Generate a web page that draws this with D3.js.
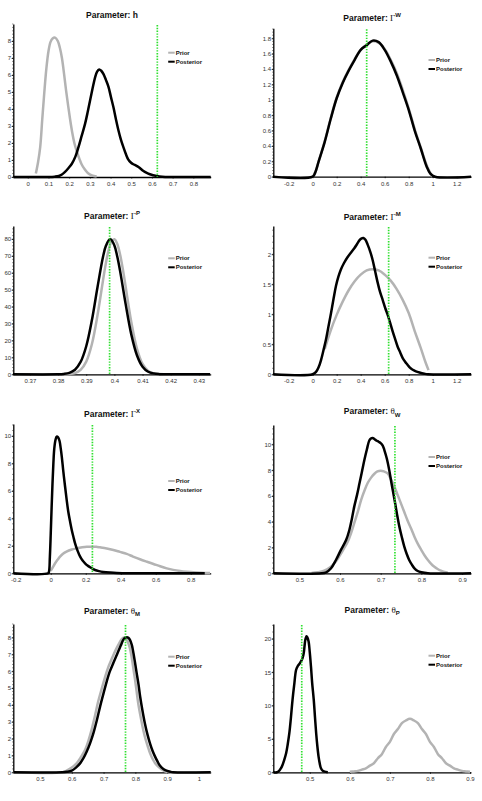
<!DOCTYPE html>
<html><head><meta charset="utf-8">
<script src="https://cdn.jsdelivr.net/npm/d3@7"></script>
<style>body{margin:0;background:#fff}svg{display:block}</style>
</head><body><svg id="c" width="482" height="801"></svg>
<script>
// ---------- DATA ----------
const seriesNames = ["Prior", "Posterior"];
const trueValues = [0.626, 0.45, 0.3983, 0.633, 0.238, 0.735, 0.769, 0.48];

const hPrior = [[0.039,0.2],[0.05,0.9],[0.06,1.76],[0.07,3.4],[0.08,5.0],[0.09,6.4],[0.1,7.4],[0.11,7.95],[0.12,8.15],[0.132,8.2],[0.145,8.0],[0.155,7.6],[0.165,7.0],[0.175,6.1],[0.185,5.1],[0.195,4.2],[0.205,3.35],[0.215,2.6],[0.225,2.0],[0.237,1.5],[0.25,1.05],[0.26,0.75],[0.275,0.45],[0.29,0.24],[0.31,0.1],[0.333,0.03]];
const hPosterior = [[-0.07,0],[0.1,0],[0.13,0.02],[0.15,0.06],[0.165,0.15],[0.18,0.3],[0.195,0.5],[0.213,0.78],[0.23,1.2],[0.245,1.76],[0.26,2.4],[0.277,3.14],[0.29,3.85],[0.301,4.5],[0.313,5.2],[0.325,5.85],[0.335,6.2],[0.345,6.33],[0.355,6.25],[0.366,6.05],[0.378,5.7],[0.39,5.3],[0.402,4.7],[0.414,4.1],[0.426,3.4],[0.438,2.75],[0.45,2.2],[0.462,1.76],[0.474,1.35],[0.486,1.02],[0.498,0.85],[0.51,0.75],[0.522,0.68],[0.535,0.59],[0.547,0.47],[0.559,0.35],[0.575,0.24],[0.59,0.16],[0.605,0.1],[0.623,0.06],[0.65,0.02],[0.68,0],[0.884,0]];

const gwPrior = [[0,0],[0.02,0.05],[0.05,0.2],[0.1,0.46],[0.15,0.76],[0.2,1.03],[0.25,1.23],[0.3,1.39],[0.35,1.53],[0.4,1.65],[0.45,1.72],[0.5,1.76],[0.55,1.74],[0.6,1.66],[0.65,1.52],[0.7,1.35],[0.75,1.13],[0.8,0.89],[0.85,0.62],[0.9,0.38],[0.95,0.15],[0.98,0.05],[1.0,0]];
const gwPosterior = [[-0.33,0],[0,0],[0.02,0.05],[0.05,0.2],[0.1,0.45],[0.15,0.75],[0.2,1.02],[0.25,1.22],[0.3,1.38],[0.35,1.52],[0.4,1.65],[0.45,1.71],[0.5,1.77],[0.55,1.75],[0.6,1.65],[0.65,1.5],[0.7,1.32],[0.75,1.1],[0.8,0.87],[0.85,0.6],[0.9,0.37],[0.95,0.13],[0.98,0.04],[1.02,0],[1.32,0]];

const gpPrior = [[0.364,0],[0.380,0],[0.382,0.03],[0.384,0.17],[0.386,0.73],[0.388,2.6],[0.390,7.5],[0.392,17.8],[0.394,34.9],[0.395,45.3],[0.396,56],[0.397,65.9],[0.398,73.8],[0.399,78.7],[0.400,79.9],[0.401,77.2],[0.402,71],[0.403,62.1],[0.404,51.8],[0.405,40.9],[0.406,31],[0.408,15.2],[0.410,6.1],[0.412,2.0],[0.414,0.55],[0.416,0.12],[0.418,0.02],[0.420,0],[0.434,0]];
const gpPosterior = [[0.364,0],[0.380,0],[0.382,0.22],[0.384,0.84],[0.386,2.7],[0.388,7.3],[0.390,16.6],[0.392,31.9],[0.394,51.5],[0.396,69.8],[0.397,76],[0.3985,80],[0.400,76.2],[0.401,69.8],[0.402,61.3],[0.404,41.5],[0.406,23.6],[0.408,11.3],[0.410,4.5],[0.412,1.5],[0.414,0.44],[0.416,0.1],[0.418,0],[0.434,0]];

const gmPrior = [[0.1,0.42],[0.15,0.73],[0.2,0.99],[0.25,1.21],[0.3,1.4],[0.35,1.55],[0.4,1.66],[0.45,1.73],[0.5,1.75],[0.55,1.73],[0.6,1.66],[0.65,1.56],[0.7,1.42],[0.75,1.24],[0.8,1.02],[0.85,0.72],[0.9,0.44],[0.94,0.2],[0.965,0.07]];
const gmPosterior = [[-0.33,0],[0,0],[0.028,0.04],[0.05,0.12],[0.07,0.24],[0.09,0.4],[0.11,0.57],[0.13,0.78],[0.153,1.02],[0.175,1.27],[0.194,1.47],[0.215,1.63],[0.236,1.75],[0.26,1.85],[0.29,1.95],[0.32,2.03],[0.347,2.1],[0.37,2.17],[0.389,2.23],[0.405,2.26],[0.422,2.27],[0.44,2.24],[0.458,2.16],[0.48,2.04],[0.5,1.9],[0.52,1.72],[0.54,1.54],[0.56,1.38],[0.583,1.24],[0.605,1.1],[0.625,0.99],[0.645,0.86],[0.667,0.71],[0.688,0.58],[0.708,0.46],[0.73,0.36],[0.75,0.27],[0.77,0.21],[0.79,0.16],[0.81,0.11],[0.83,0.08],[0.86,0.05],[0.89,0.03],[0.93,0.01],[0.96,0],[1.32,0]];

const gxPrior = [[0,0.17],[0.01,0.4],[0.025,0.73],[0.04,1.0],[0.053,1.21],[0.07,1.42],[0.09,1.58],[0.12,1.73],[0.149,1.82],[0.18,1.89],[0.206,1.93],[0.238,1.94],[0.26,1.93],[0.282,1.89],[0.32,1.81],[0.358,1.7],[0.395,1.56],[0.434,1.41],[0.47,1.22],[0.51,1.02],[0.55,0.84],[0.587,0.68],[0.625,0.51],[0.663,0.36],[0.7,0.25],[0.739,0.17],[0.78,0.11],[0.815,0.07],[0.86,0.04],[0.91,0.02]];
const gxPosterior = [[-0.214,0],[-0.015,0],[-0.01,0.12],[-0.005,1.2],[0,2.9],[0.005,4.8],[0.01,6.55],[0.015,8.0],[0.02,9.05],[0.027,9.7],[0.034,9.95],[0.042,9.9],[0.05,9.65],[0.057,9.1],[0.063,8.5],[0.072,7.4],[0.082,6.3],[0.091,5.35],[0.1,4.5],[0.11,3.8],[0.12,3.16],[0.13,2.63],[0.139,2.18],[0.153,1.65],[0.168,1.21],[0.182,0.93],[0.196,0.73],[0.21,0.57],[0.225,0.44],[0.24,0.32],[0.253,0.24],[0.275,0.16],[0.3,0.1],[0.34,0.05],[0.377,0.02],[0.45,0],[0.88,0]];

const twPrior = [[0.53,0.02],[0.545,0.08],[0.561,0.2],[0.575,0.45],[0.586,0.78],[0.595,1.15],[0.602,1.5],[0.61,1.95],[0.619,2.45],[0.627,3.1],[0.635,3.9],[0.644,4.8],[0.652,5.7],[0.66,6.4],[0.668,7.0],[0.676,7.4],[0.684,7.7],[0.692,7.9],[0.7,7.96],[0.708,7.9],[0.717,7.75],[0.725,7.3],[0.734,6.7],[0.742,6.05],[0.75,5.4],[0.758,4.75],[0.766,4.1],[0.775,3.45],[0.783,2.84],[0.791,2.3],[0.8,1.8],[0.808,1.38],[0.816,1.03],[0.824,0.73],[0.832,0.5],[0.84,0.33],[0.848,0.2],[0.857,0.1],[0.865,0.05]];
const twPosterior = [[0.436,0],[0.555,0],[0.566,0.08],[0.578,0.39],[0.59,1.03],[0.602,1.8],[0.615,2.58],[0.623,3.36],[0.629,4.2],[0.635,5.17],[0.642,6.1],[0.648,7.0],[0.654,7.9],[0.66,8.8],[0.666,9.6],[0.672,10.3],[0.676,10.45],[0.68,10.5],[0.685,10.4],[0.689,10.3],[0.695,10.2],[0.7,10.1],[0.705,9.9],[0.709,9.56],[0.715,8.9],[0.721,8.0],[0.727,6.9],[0.734,5.7],[0.74,4.6],[0.746,3.6],[0.752,2.8],[0.758,2.07],[0.764,1.5],[0.77,1.03],[0.777,0.65],[0.783,0.39],[0.791,0.18],[0.8,0.08],[0.816,0],[0.922,0]];

const tmPrior = [[0.416,0],[0.57,0],[0.584,0.1],[0.6,0.28],[0.615,0.53],[0.628,0.88],[0.642,1.33],[0.652,1.85],[0.662,2.5],[0.673,3.35],[0.683,4.2],[0.694,4.95],[0.704,5.6],[0.714,6.2],[0.725,6.7],[0.733,7.05],[0.741,7.37],[0.749,7.65],[0.757,7.9],[0.764,8.0],[0.771,7.93],[0.778,7.66],[0.783,7.35],[0.788,6.87],[0.793,6.25],[0.799,5.5],[0.804,4.8],[0.809,4.1],[0.817,3.25],[0.825,2.5],[0.833,1.9],[0.841,1.43],[0.848,1.05],[0.856,0.73],[0.864,0.5],[0.872,0.34],[0.882,0.18],[0.893,0.06],[0.909,0],[1.037,0]];
const tmPosterior = [[0.416,0],[0.57,0],[0.585,0.03],[0.6,0.1],[0.613,0.28],[0.626,0.53],[0.637,0.85],[0.647,1.23],[0.658,1.75],[0.668,2.32],[0.679,3.1],[0.689,3.9],[0.7,4.7],[0.71,5.4],[0.72,6.0],[0.731,6.5],[0.739,6.85],[0.746,7.17],[0.754,7.52],[0.762,7.86],[0.768,8.0],[0.773,8.02],[0.778,7.98],[0.783,7.86],[0.789,7.55],[0.794,7.07],[0.799,6.5],[0.804,5.9],[0.81,5.2],[0.815,4.5],[0.822,3.7],[0.83,2.9],[0.838,2.25],[0.846,1.72],[0.854,1.28],[0.862,0.93],[0.87,0.63],[0.877,0.4],[0.888,0.2],[0.898,0.1],[0.91,0.03],[0.919,0],[1.037,0]];

const tpPrior = [[0.6,0.07],[0.61,0.135],[0.62,0.21],[0.63,0.4],[0.64,0.59],[0.65,1.0],[0.66,1.36],[0.67,2.11],[0.68,2.72],[0.69,3.79],[0.7,4.56],[0.71,5.73],[0.72,6.47],[0.73,7.36],[0.74,7.76],[0.75,8.0],[0.76,7.76],[0.77,7.36],[0.78,6.47],[0.79,5.73],[0.8,4.56],[0.81,3.79],[0.82,2.72],[0.83,2.11],[0.84,1.36],[0.85,1.0],[0.86,0.59],[0.87,0.4],[0.88,0.21],[0.89,0.135],[0.9,0.07]];
const tpPosterior = [[0.409,0],[0.418,0],[0.424,0.25],[0.428,0.6],[0.432,1.1],[0.436,1.8],[0.441,2.85],[0.445,4.2],[0.449,5.85],[0.453,8.2],[0.457,10.85],[0.461,13.0],[0.466,15.35],[0.47,15.9],[0.474,16.2],[0.478,16.6],[0.482,17.1],[0.485,17.85],[0.487,18.9],[0.489,19.85],[0.492,20.35],[0.494,20.2],[0.497,19.6],[0.5,18.0],[0.503,15.85],[0.506,13.4],[0.51,10.85],[0.513,8.3],[0.516,5.85],[0.519,3.9],[0.522,2.35],[0.525,1.3],[0.528,0.6],[0.532,0.25],[0.537,0.1],[0.545,0]];

// tick labels
const xTicks1 = [0,0.1,0.2,0.3,0.4,0.5,0.6,0.7,0.8];
const yTicks1 = [0,1,2,3,4,5,6,7,8];
const xTicks2 = [-0.2,0,0.2,0.4,0.6,0.8,1,1.2];
const yTicks2 = [0,0.2,0.4,0.6,0.8,1,1.2,1.4,1.6,1.8];
const xTicks3 = [0.37,0.38,0.39,0.4,0.41,0.42,0.43];
const yTicks3 = [0,10,20,30,40,50,60,70,80];
const yTicks4 = [0,0.5,1,1.5,2];
const xTicks5 = [-0.2,0,0.2,0.4,0.6,0.8];
const yTicks5 = [0,2,4,6,8,10];
const xTicks6 = [0.5,0.6,0.7,0.8,0.9];
const xTicks7 = [0.5,0.6,0.7,0.8,0.9,1];
const yTicks8 = [0,5,10,15,20];

// titles: [symbol, script, kind]
const titleParts = [
  ["h", "", "plain"], ["Γ", "W", "sup"], ["Γ", "P", "sup"], ["Γ", "M", "sup"],
  ["Γ", "X", "sup"], ["θ", "W", "sub"], ["θ", "M", "sub"], ["θ", "P", "sub"]
];

// ---------- LAYOUT ----------
const L = {left: 13.3, right: 210.7}, R = {left: 273.3, right: 471};
const panels = [
  {...L, top: 24,  bottom: 177,   xd:[-0.07,0.884],   ymax: 9,     xt: xTicks1, yt: yTicks1, prior: hPrior,  post: hPosterior,  ty: 17.5, ly: 52.7},
  {...R, top: 28.3,bottom: 176.7, xd:[-0.328,1.319],  ymax: 1.93,  xt: xTicks2, yt: yTicks2, prior: gwPrior, post: gwPosterior, ty: 20.5, ly: 60},
  {...L, top: 226, bottom: 374.3, xd:[0.3641,0.4342], ymax: 87.7,  xt: xTicks3, yt: yTicks3, prior: gpPrior, post: gpPosterior, ty: 218.5, ly: 258.3},
  {...R, top: 226, bottom: 374.3, xd:[-0.328,1.319],  ymax: 2.47,  xt: xTicks2, yt: yTicks4, prior: gmPrior, post: gmPosterior, ty: 219.5, ly: 257.7},
  {...L, top: 424, bottom: 573.3, xd:[-0.214,0.914],  ymax: 10.87, xt: xTicks5, yt: yTicks5, prior: gxPrior, post: gxPosterior, ty: 416.5, ly: 481},
  {...R, top: 425, bottom: 573.3, xd:[0.436,0.922],   ymax: 11.5,  xt: xTicks6, yt: yTicks5, prior: twPrior, post: twPosterior, ty: 414, ly: 457},
  {...L, top: 624, bottom: 772.3, xd:[0.416,1.037],   ymax: 8.8,   xt: xTicks7, yt: yTicks1, prior: tmPrior, post: tmPosterior, ty: 613.5, ly: 656.7},
  {...R, top: 624, bottom: 772.3, xd:[0.409,0.9025],  ymax: 22.2,  xt: xTicks6, yt: yTicks8, prior: tpPrior, post: tpPosterior, ty: 612.5, ly: 655.7}
];

const svg = d3.select("#c");
const fmt = v => String(+v.toFixed(3));
const SANS = "'Liberation Sans', Arial, sans-serif";
const SERIF = "'Liberation Serif', 'DejaVu Serif', serif";
const GRAY = "#b3b3b3";

panels.forEach((p, i) => {
  const x = d3.scaleLinear().domain(p.xd).range([p.left, p.right]);
  const y = d3.scaleLinear().domain([0, p.ymax]).range([p.bottom, p.top]);
  const g = svg.append("g");

  // minor y ticks
  const step = p.yt[1] - p.yt[0];
  const minor = d3.range(0, p.ymax + 1e-9, step / 5);
  g.append("g").selectAll("line").data(minor).join("line")
    .attr("x1", p.left - 1).attr("x2", p.left)
    .attr("y1", d => y(d)).attr("y2", d => y(d))
    .attr("stroke", "#000").attr("stroke-width", 0.6);

  // axes
  const xa = g.append("g").attr("transform", `translate(0,${p.bottom})`)
    .call(d3.axisBottom(x).tickValues(p.xt).tickFormat(fmt).tickSizeInner(1.5).tickSizeOuter(0).tickPadding(3.4));
  const ya = g.append("g").attr("transform", `translate(${p.left},0)`)
    .call(d3.axisLeft(y).tickValues(p.yt).tickFormat(fmt).tickSizeInner(1.6).tickSizeOuter(0).tickPadding(0.6));
  [xa, ya].forEach(a => {
    a.select(".domain").attr("stroke", "#000").attr("stroke-width", 1.3);
    a.selectAll(".tick line").attr("stroke", "#000").attr("stroke-width", 0.8);
    a.selectAll(".tick text").attr("fill", "#333").attr("font-size", 6).attr("font-family", SANS);
  });

  // curves
  const line = d3.line().x(d => x(d[0])).y(d => y(d[1])).curve(d3.curveCatmullRom.alpha(0.5));
  g.append("path").datum(p.prior).attr("d", line).attr("fill", "none")
    .attr("stroke", GRAY).attr("stroke-width", 2.5).attr("stroke-linejoin", "round");
  g.append("path").datum(p.post).attr("d", line).attr("fill", "none")
    .attr("stroke", "#000").attr("stroke-width", 2.5).attr("stroke-linejoin", "round");

  // true value
  g.append("line").attr("x1", x(trueValues[i])).attr("x2", x(trueValues[i]))
    .attr("y1", p.top + 1).attr("y2", p.bottom)
    .attr("stroke", "#2fe02f").attr("stroke-width", 1.7).attr("stroke-dasharray", "1.4,1.4");

  // legend
  const lx = p.right - 42.5;
  seriesNames.forEach((s, k) => {
    const yy = p.ly + k * 9;
    g.append("line").attr("x1", lx).attr("x2", lx + 6.5).attr("y1", yy).attr("y2", yy)
      .attr("stroke", k === 0 ? GRAY : "#000").attr("stroke-width", 2);
    g.append("text").attr("x", lx + 7.5).attr("y", yy + 2).text(s)
      .attr("font-size", 6).attr("font-weight", "bold").attr("font-family", SANS).attr("fill", "#111");
  });

  // title
  const tp = titleParts[i];
  const t = g.append("text").attr("x", (p.left + p.right) / 2).attr("y", p.ty)
    .attr("text-anchor", "middle").attr("font-family", SANS).attr("font-size", 8.5)
    .attr("font-weight", "bold").attr("fill", "#111");
  t.append("tspan").text("Parameter: ");
  if (tp[2] === "plain") {
    t.append("tspan").text(tp[0]);
  } else {
    t.append("tspan").text(tp[0]).attr("font-family", SERIF).attr("font-weight", "normal").attr("font-size", 9);
    t.append("tspan").text(tp[1]).attr("font-size", 6)
      .attr("dy", tp[2] === "sup" ? -3.8 : 2.8);
  }
});
</script>
</body></html>
